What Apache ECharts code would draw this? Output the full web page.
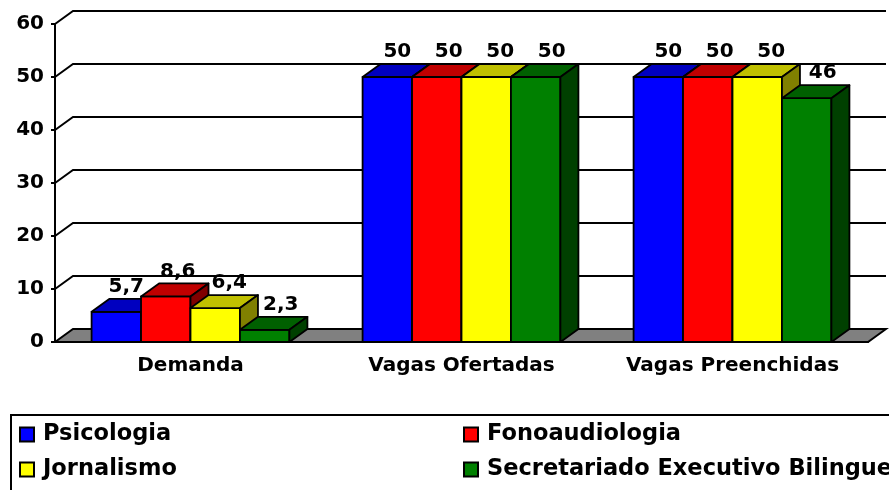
<!DOCTYPE html>
<html>
<head>
<meta charset="utf-8">
<script src="https://cdn.jsdelivr.net/npm/echarts@6/dist/echarts.min.js"></script>
<style>
  html, body { margin: 0; padding: 0; background: #fff; }
  #chart { width: 889px; height: 490px; }
</style>
</head>
<body>
<div id="chart"></div>
<script>
// dados do gráfico
var categories = ['Demanda', 'Vagas Ofertadas', 'Vagas Preenchidas'];
var psicologia = [5.7, 50, 50];
var fonoaudiologia = [8.6, 50, 50];
var jornalismo = [6.4, 50, 50];
var secretariado = [2.3, 50, 46];
var seriesNames = ['Psicologia', 'Fonoaudiologia', 'Jornalismo', 'Secretariado Executivo Bilingue'];
var yTicks = [0, 10, 20, 30, 40, 50, 60];

// profundidade do efeito 3d
var DX = 18, DY = -13;
// frente, topo, lateral
var faces = [
    ['#0000FF', '#0000C0', '#000080'],
    ['#FF0000', '#C00000', '#800000'],
    ['#FFFF00', '#C0C000', '#808000'],
    ['#008000', '#006000', '#004000']
];
var FONT = '"DejaVu Sans", Verdana, sans-serif';

function fmt(v) {
    return String(v).replace('.', ',');
}

function toData(arr) {
    return arr.map(function (v, i) { return [i, v]; });
}

/***
 * barra 3d de uma série
 */
function barItem(k) {
    return function (params, api) {
        var top = api.coord([api.value(0), api.value(1)]);
        var base = api.coord([api.value(0), 0]);
        var band = api.size([1, 0])[0];
        var w = band * 0.73 / 4;
        var x0 = top[0] - 2 * w + k * w;
        var x1 = x0 + w;
        var yt = top[1], yb = base[1];
        var col = faces[k];
        function st(fill) {
            return {fill: fill, stroke: '#000', lineWidth: 1.8, lineJoin: 'round'};
        }
        return {
            type: 'group',
            children: [
                {type: 'polygon', shape: {points: [[x0, yb], [x1, yb], [x1, yt], [x0, yt]]}, style: st(col[0])},
                {type: 'polygon', shape: {points: [[x0, yt], [x1, yt], [x1 + DX, yt + DY], [x0 + DX, yt + DY]]}, style: st(col[1])},
                {type: 'polygon', shape: {points: [[x1, yb], [x1 + DX, yb + DY], [x1 + DX, yt + DY], [x1, yt]]}, style: st(col[2])},
                {
                    type: 'text', z2: 100,
                    x: (x0 + x1) / 2 + 10 + k * 2, y: yt - 25,
                    style: {text: fmt(api.value(1)), font: 'bold 20px ' + FONT, fill: '#000', align: 'center', verticalAlign: 'middle'}
                }
            ]
        };
    };
}

/***
 * piso e linhas de grade no plano de fundo
 */
function frameItem(params, api) {
    var cs = params.coordSys;
    var xl = cs.x, xr = cs.x + cs.width;
    var y = api.coord([0, api.value(1)])[1];
    if (api.value(1) === 0) {
        return {
            type: 'polygon',
            shape: {points: [[xl, y], [xl + DX, y + DY], [xr + DX, y + DY], [xr, y]]},
            style: {fill: '#808080', stroke: '#000', lineWidth: 2}
        };
    }
    return {
        type: 'polyline',
        shape: {points: [[xl, y], [xl + DX, y + DY], [xr + DX, y + DY]]},
        style: {fill: null, stroke: '#000', lineWidth: 2}
    };
}

var series = [{
    name: 'frame',
    type: 'custom',
    renderItem: frameItem,
    data: yTicks.map(function (v) { return [0, v]; }),
    silent: true
}];
[psicologia, fonoaudiologia, jornalismo, secretariado].forEach(function (arr, k) {
    series.push({
        name: seriesNames[k],
        type: 'custom',
        renderItem: barItem(k),
        itemStyle: {color: faces[k][0]},
        encode: {x: 0, y: 1},
        data: toData(arr)
    });
});

var legendText = {fontSize: 22.5, fontWeight: 'bold', fontFamily: FONT, color: '#000', padding: [0, 0, 0, 4], lineHeight: 22};

var option = {
    animation: false,
    backgroundColor: '#fff',
    grid: {left: 55, right: 21, top: 24, bottom: 148},
    xAxis: {
        type: 'category',
        data: categories,
        axisLine: {lineStyle: {color: '#000', width: 2}},
        axisTick: {length: 5, lineStyle: {color: '#000', width: 2}},
        axisLabel: {interval: 0, hideOverlap: false, margin: 14, fontSize: 20, fontWeight: 'bold', fontFamily: FONT, color: '#000'},
        splitLine: {show: false}
    },
    yAxis: {
        type: 'value',
        min: 0, max: 60, interval: 10,
        axisLine: {show: true, lineStyle: {color: '#000', width: 2}},
        axisTick: {show: true, length: 4, lineStyle: {color: '#000', width: 2}},
        axisLabel: {margin: 11, fontSize: 20, fontWeight: 'bold', fontFamily: FONT, color: '#000'},
        splitLine: {show: false}
    },
    legend: [{
        orient: 'vertical', left: 19, top: 423, padding: 0, itemGap: 12,
        itemWidth: 14, itemHeight: 14, icon: 'rect', selectedMode: false,
        itemStyle: {borderColor: '#000', borderWidth: 2},
        textStyle: legendText,
        data: ['Psicologia', 'Jornalismo']
    }, {
        orient: 'vertical', left: 463, top: 423, padding: 0, itemGap: 12,
        itemWidth: 14, itemHeight: 14, icon: 'rect', selectedMode: false,
        itemStyle: {borderColor: '#000', borderWidth: 2},
        textStyle: legendText,
        data: ['Fonoaudiologia', 'Secretariado Executivo Bilingue']
    }],
    graphic: [{
        type: 'rect', silent: true,
        shape: {x: 11, y: 415, width: 900, height: 100},
        style: {fill: 'none', stroke: '#000', lineWidth: 2}
    }],
    series: series
};

var myChart = echarts.init(document.getElementById('chart'));
myChart.setOption(option);
</script>
</body>
</html>
